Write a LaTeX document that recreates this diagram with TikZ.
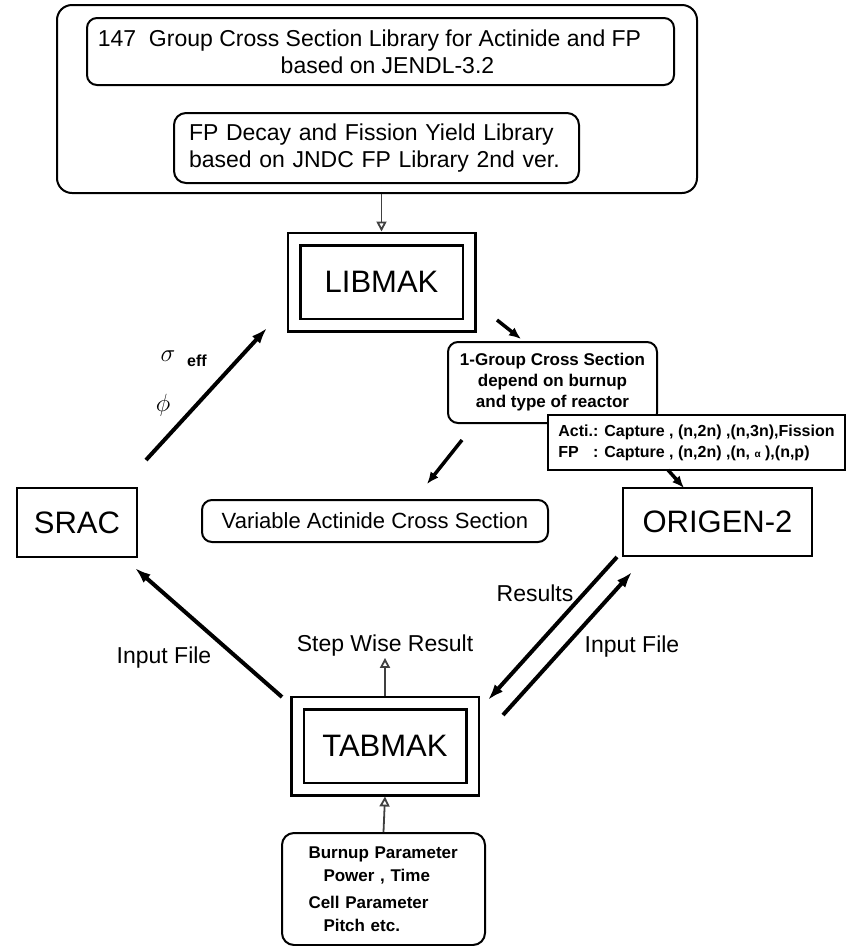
\documentclass[tikz,border=0pt]{standalone}
\usepackage{fontspec}
\setmainfont{Liberation Sans}
\usetikzlibrary{arrows.meta, positioning}

\newcommand{\fsize}[2]{\fontsize{#1}{#2}\selectfont}

\begin{document}
\begin{tikzpicture}[x=1pt,y=-1pt,>={Latex[length=16pt,width=11pt]},line join=miter]
	
	\tikzset{node lib/.style={draw, line width=2pt, rounded corners=12pt,
			font=\fsize{23}{27}}}
	\tikzset{node prog/.style={draw, line width=2.5pt, double, double distance=10pt,
			minimum width=175pt, minimum height=86pt, outer sep=7.5pt,
			font=\fsize{31}{31}}}
	\tikzset{node code/.style={draw, line width=2pt, font=\fsize{31}{31}}}
	\tikzset{node xs/.style={draw, line width=2pt, rounded corners=10pt}}
	\tikzset{flow/.style={->}}
	\tikzset{short/.style={-{Latex[length=12pt,width=10pt]}}}
	\tikzset{feed/.style={-{Triangle[open,length=10pt,width=10pt]}, line width=1.8pt, draw=black!75}}
	\tikzset{lbl/.style={font=\fsize{23}{23}, inner sep=1pt}}
	
	\useasboundingbox (0,0) rectangle (849,946);
	
	% libraries
	\node[node lib, rounded corners=15pt, minimum width=640pt, minimum height=188pt] (LIB) at (377,99) {};
	\node[node lib, rounded corners=10pt, minimum width=587pt, minimum height=67pt, align=center] (JENDL) at (380.5,51.5)
	{147\ \ Group Cross Section Library for Actinide and FP\hspace*{22pt}\\\hspace*{14pt}based on JENDL-3.2};
	\node[node lib, text width=375pt, inner xsep=15pt, minimum height=70pt, align=left] (JNDC) at (376.5,148)
	{FP Decay and Fission Yield Library\\based on JNDC FP Library 2nd ver.};
	
	% codes
	\node[node prog] (LIBMAK) at (381.5,282) {LIBMAK};
	\node[node prog] (TABMAK) at (385,746) {TABMAK};
	\node[node code, minimum width=120pt, minimum height=69pt] (SRAC) at (77,522.5) {SRAC};
	\node[node code, minimum width=189pt, minimum height=68pt] (ORIGEN) at (717.5,522) {ORIGEN-2};
	
	% cross sections
	\node[node xs, minimum width=209pt, minimum height=81pt, align=center,
	font=\bfseries\fsize{17}{21}] (GRP) at (552.5,382.5)
	{1-Group Cross Section\\depend on burnup\\and type of reactor};
	\node[draw, fill=white, line width=2pt, minimum width=297pt, minimum height=55pt,
	font=\bfseries\fsize{16}{21}] (ACTI) at (696.5,442.5)
	{\begin{tabular}{@{}l@{}l@{}}
			Acti.&: Capture , (n,2n) ,(n,3n),Fission\\
			FP&: Capture , (n,2n) ,(n, {\fsize{10}{10}α} ),(n,p)
	\end{tabular}};
	\node[node xs, minimum width=346pt, minimum height=42pt, font=\fsize{22}{22}] (VAR) at (375,521)
	{Variable Actinide Cross Section};
	\node[node xs, rounded corners=12pt, text width=150pt, inner xsep=26.5pt, minimum height=112pt,
	align=left, font=\bfseries\fsize{17}{23}] (BURN) at (383.5,889)
	{Burnup Parameter\\\hspace*{15pt}Power , Time\\[4pt]Cell Parameter\\\hspace*{15pt}Pitch etc.};
	
	% labels
	\node[lbl] (SWR) at (385,646) {Step Wise Result};
	\node[lbl] (INL) at (164,658) {Input File};
	\node[lbl] (RES) at (535,593) {Results};
	\node[lbl] (INR) at (632,647) {Input File};
	\node[inner sep=0pt] (SIG) at (168,356) {\fsize{26}{26}$\sigma$};
	\node[inner sep=0pt, font=\bfseries\fsize{16}{16}] (EFF) at (197,361) {eff};
	\node[inner sep=0pt] (PHI) at (163,405) {\fsize{26}{26}$\phi$};
	
	% arrow ends
	\coordinate (sgA) at (146,460);
	\coordinate (sgB) at (267,328);
	\coordinate (inA) at (282,697);
	\coordinate (inB) at (135,568);
	\coordinate (rsA) at (617,557);
	\coordinate (rsB) at (488,700);
	\coordinate (irA) at (503,715);
	\coordinate (irB) at (632,572);
	\coordinate (g1A) at (497,320);
	\coordinate (g1B) at (521,339);
	\coordinate (g2A) at (462,440);
	\coordinate (g2B) at (427,484);
	\coordinate (g3A) at (668,470);
	\coordinate (g3B) at (684,488);
	
	\draw[line width=4pt]
	(sgA) edge[flow] (sgB)
	(inA) edge[flow] (inB)
	(rsA) edge[flow] (rsB)
	(irA) edge[flow] (irB);
	\draw[line width=3.5pt]
	(g1A) edge[short] (g1B)
	(g2A) edge[short] (g2B)
	(g3A) edge[short] (g3B);
	\draw[feed] (LIB.south -| LIBMAK.north) -- (LIBMAK.north);
	\draw[feed] (TABMAK.north) -- (SWR.south);
	\draw[feed] (BURN.north) -- (TABMAK.south);
\end{tikzpicture}
\end{document}
